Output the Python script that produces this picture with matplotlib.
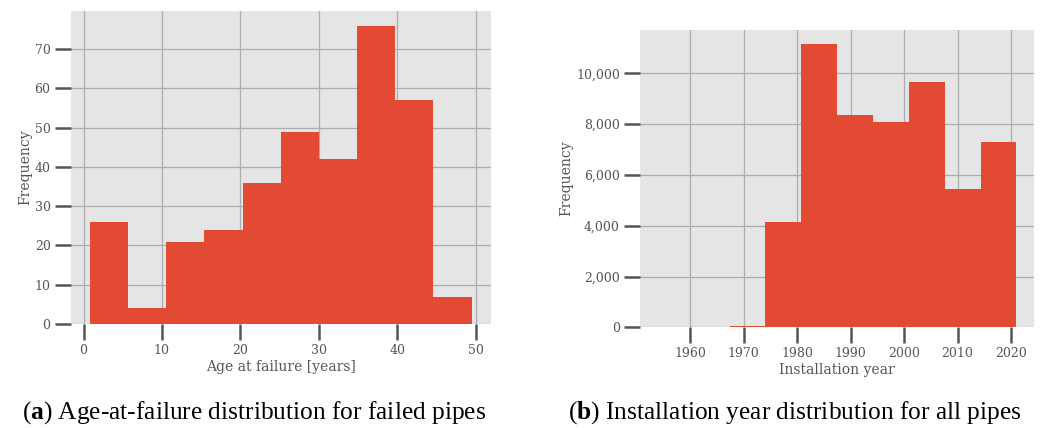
import numpy as np
import matplotlib
matplotlib.use('Agg')
import matplotlib.pyplot as plt
from matplotlib.ticker import FuncFormatter

plt.style.use('ggplot')
plt.rcParams['font.family'] = 'DejaVu Serif'
plt.rcParams['mathtext.fontset'] = 'custom'
plt.rcParams['mathtext.rm'] = 'Liberation Serif'
plt.rcParams['mathtext.bf'] = 'Liberation Serif:bold'

# age at failure histogram (failed pipes)
age_edges = np.linspace(0.8, 49.5, 11)
age_counts = [26, 4, 21, 24, 36, 49, 42, 76, 57, 7]

# installation year histogram (all pipes)
year_edges = np.linspace(1954, 2021, 11)
year_counts = [0, 0, 60, 4150, 11150, 8350, 8080, 9660, 5430, 7300]

bar_color = '#E24A33'
tick_color = '#555555'

fig = plt.figure(figsize=(10.49, 4.28), dpi=100)
ax1 = fig.add_axes([0.0674, 0.243, 0.4004, 0.732])
ax2 = fig.add_axes([0.6101, 0.2353, 0.3759, 0.6946])


def style_axes(ax):
    ax.set_facecolor('#E5E5E5')
    ax.set_axisbelow(True)
    ax.grid(True, color='#adadad', linewidth=0.9)
    for s in ax.spines.values():
        s.set_visible(False)
    ax.tick_params(axis='both', direction='out', length=11.5, width=1.8,
                   color=tick_color, labelcolor=tick_color, labelsize=9, pad=3)


ax1.hist(age_edges[:-1], bins=age_edges, weights=age_counts,
         color=bar_color, linewidth=0)
style_axes(ax1)
ax1.set_xticks(range(0, 51, 10))
ax1.set_yticks(range(0, 71, 10))
ax1.set_xlabel('Age at failure [years]', fontsize=10, color=tick_color, labelpad=2)
ax1.set_ylabel('Frequency', fontsize=10, color=tick_color, labelpad=2)

ax2.hist(year_edges[:-1], bins=year_edges, weights=year_counts,
         color=bar_color, linewidth=0)
style_axes(ax2)
ax2.set_xticks(range(1960, 2021, 10))
ax2.set_yticks(range(0, 10001, 2000))
ax2.yaxis.set_major_formatter(FuncFormatter(lambda v, p: f'{int(v):,}'))
ax2.set_xlabel('Installation year', fontsize=10, color=tick_color, labelpad=2)
ax2.set_ylabel('Frequency', fontsize=10, color=tick_color, labelpad=2)

cap_font = 'Liberation Serif'
fig.text(0.021, 0.037, r'($\mathbf{a}$) Age-at-failure distribution for failed pipes',
         fontsize=18.3, family=cap_font, va='center', ha='left')
fig.text(0.541, 0.037, r'($\mathbf{b}$) Installation year distribution for all pipes',
         fontsize=18.3, family=cap_font, va='center', ha='left')

fig.savefig('out.png', dpi=100)
